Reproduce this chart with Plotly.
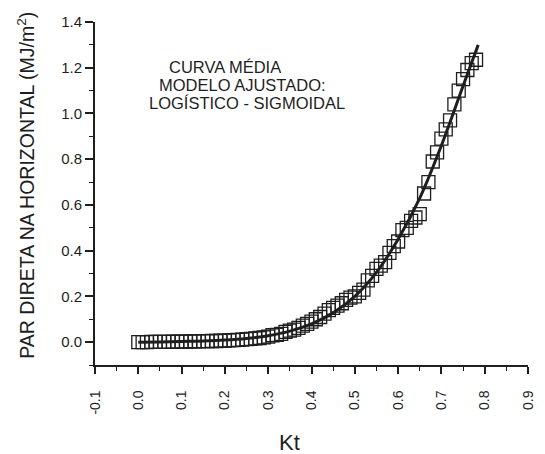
import plotly.graph_objects as go

# Observed data (Kt vs PAR direta)
kt = [round(i * 0.01, 2) for i in range(79)]
par = [0.000, 0.000, 0.000, 0.001, 0.001, 0.001, 0.001, 0.001, 0.002, 0.002,
       0.002, 0.002, 0.003, 0.003, 0.003, 0.004, 0.004, 0.005, 0.005, 0.006,
       0.007, 0.008, 0.009, 0.010, 0.011, 0.013, 0.014, 0.016, 0.018, 0.021,
       0.024, 0.030, 0.032, 0.036, 0.045, 0.050, 0.055, 0.062, 0.072, 0.080,
       0.090, 0.100, 0.110, 0.125, 0.140, 0.150, 0.160, 0.170, 0.185, 0.195,
       0.200, 0.215, 0.230, 0.270, 0.290, 0.320, 0.335, 0.350, 0.390, 0.420,
       0.440, 0.490, 0.500, 0.530, 0.545, 0.560, 0.650, 0.700, 0.790, 0.830,
       0.890, 0.930, 0.970, 1.040, 1.100, 1.150, 1.190, 1.220, 1.235]

# Fitted logistic-sigmoidal curve
fit_x = [0.0, 0.05, 0.1, 0.15, 0.2, 0.25, 0.3, 0.35, 0.4, 0.45, 0.5, 0.55,
         0.6, 0.65, 0.7, 0.75, 0.785]
fit_y = [0.0, 0.001, 0.003, 0.005, 0.009, 0.016, 0.028, 0.048, 0.080, 0.128,
         0.200, 0.305, 0.450, 0.630, 0.860, 1.120, 1.300]

x_ticks = [-0.1, 0.0, 0.1, 0.2, 0.3, 0.4, 0.5, 0.6, 0.7, 0.8, 0.9]
x_ticklabels = ["-0.1", "0.0", "0.1", "0.2", "0.3", "0.4", "0.5", "0.6", "0.7", "0.8", "0.9"]
y_ticks = [0.0, 0.2, 0.4, 0.6, 0.8, 1.0, 1.2, 1.4]
y_ticklabels = ["0.0", "0.2", "0.4", "0.6", "0.8", "1.0", "1.2", "1.4"]

ink = "#1e1e1e"
font_family = "Liberation Sans, Arial, sans-serif"

fig = go.Figure()
fig.add_trace(go.Scatter(
    x=kt, y=par, mode="markers",
    marker=dict(symbol="square-open", size=13, color=ink, line=dict(width=1.3, color=ink)),
    showlegend=False, cliponaxis=False))
fig.add_trace(go.Scatter(
    x=fit_x, y=fit_y, mode="lines", line=dict(color=ink, width=3, shape="spline"),
    showlegend=False, cliponaxis=False))

# page body adds an 8px offset; figure is sized to fill the remaining window
fig.update_layout(
    width=537, height=446,
    margin=dict(l=87, r=17, t=14, b=89, autoexpand=False),
    paper_bgcolor="white", plot_bgcolor="white",
    font=dict(family=font_family, color=ink, size=14),
    xaxis=dict(range=[-0.1, 0.9], tickvals=x_ticks, ticktext=x_ticklabels,
               tickangle=-90, showgrid=False, zeroline=False,
               showline=True, linecolor=ink, linewidth=1.8,
               ticks="outside", ticklen=7, tickwidth=1.6, tickcolor=ink,
               ticklabelstandoff=11,
               tickfont=dict(size=14, family=font_family, color=ink),
               minor=dict(ticks="outside", dtick=0.05, tick0=0, ticklen=4,
                          tickwidth=1.4, tickcolor=ink, showgrid=False)),
    yaxis=dict(range=[-0.1, 1.4], tickvals=y_ticks, ticktext=y_ticklabels,
               showgrid=False, zeroline=False,
               showline=True, linecolor=ink, linewidth=1.8,
               ticks="outside", ticklen=8, tickwidth=1.6, tickcolor=ink,
               tickfont=dict(size=15, family=font_family, color=ink),
               minor=dict(ticks="outside", dtick=0.1, tick0=0, ticklen=4,
                          tickwidth=1.4, tickcolor=ink, showgrid=False)),
)

ann = [
    dict(text="CURVA MÉDIA", x=(168 - 96) / 432, y=(365 - 67) / 343, xanchor="left"),
    dict(text="MODELO AJUSTADO:", x=(158 - 96) / 432, y=(365 - 85) / 343, xanchor="left"),
    dict(text="LOGÍSTICO - SIGMOIDAL", x=(148 - 96) / 432, y=(365 - 103) / 343, xanchor="left"),
]
for a in ann:
    fig.add_annotation(xref="paper", yref="paper", yanchor="middle", showarrow=False,
                       font=dict(size=16.5, family=font_family, color=ink), **a)

fig.add_annotation(text="PAR DIRETA NA HORIZONTAL (MJ/m<sup>2</sup>)", textangle=-90,
                   xref="paper", yref="paper", x=(27 - 96) / 432, y=(365 - 185) / 343,
                   xanchor="center", yanchor="middle", showarrow=False,
                   font=dict(size=19.5, family=font_family, color=ink))
fig.add_annotation(text="Kt", xref="paper", yref="paper", x=(290 - 96) / 432,
                   y=(365 - 443) / 343, xanchor="center", yanchor="middle",
                   showarrow=False, font=dict(size=22, family=font_family, color=ink))

fig.write_html("out.html")
